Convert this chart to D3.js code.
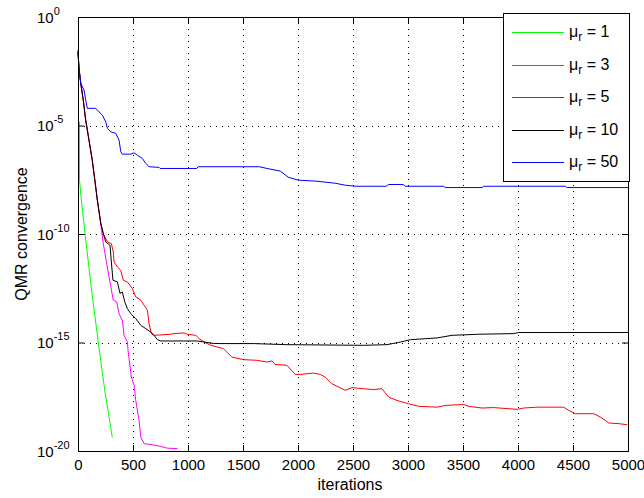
<!DOCTYPE html>
<html>
<head>
<meta charset="utf-8">
<script src="https://cdnjs.cloudflare.com/ajax/libs/d3/7.8.5/d3.min.js"></script>
<style>
  body { margin: 0; background: #fff; }
  text { font-family: "Liberation Sans", Arial, sans-serif; fill: #000; }
</style>
</head>
<body>
<div id="chart"></div>
<script>
// chart data (y values stored as log10 exponents)
var xTicks = [0, 500, 1000, 1500, 2000, 2500, 3000, 3500, 4000, 4500, 5000];
var yTickExponents = [0, -5, -10, -15, -20];
var legendLabels = ["1", "3", "5", "10", "50"];
var seriesColors = ["#00ff00", "#ff00ff", "#ff0000", "#000000", "#0000ff"];

var mu1Iter = [14, 14, 30, 64, 118, 182, 246, 312];
var mu1Exp = [-4.83, -7.52, -8.44, -9.96, -12.36, -14.90, -17.30, -19.37];

var mu3Iter = [0, 9, 25, 48, 70, 100, 130, 161, 176, 207, 230, 282, 321, 352, 373, 403, 419, 449, 455, 485, 510, 525, 555, 571, 601, 662, 752, 813, 904];
var mu3Exp = [-1.61, -2.35, -3.06, -3.83, -4.75, -5.70, -6.64, -7.86, -8.46, -9.55, -10.44, -11.98, -13.05, -13.13, -13.67, -13.98, -14.67, -14.98, -15.36, -16.59, -16.97, -17.67, -18.59, -19.36, -19.66, -19.70, -19.79, -19.87, -19.89];

var mu5Iter = [0, 9, 25, 48, 70, 100, 130, 161, 176, 207, 230, 267, 303, 321, 328, 358, 389, 412, 449, 494, 525, 571, 601, 631, 646, 667, 692, 844, 874, 965, 995, 1071, 1101, 1146, 1207, 1322, 1399, 1504, 1626, 1717, 1763, 1793, 1899, 1975, 2020, 2141, 2202, 2247, 2308, 2429, 2490, 2596, 2687, 2763, 2823, 2900, 2945, 3005, 3096, 3264, 3339, 3506, 3551, 3673, 3779, 3992, 4052, 4174, 4416, 4461, 4522, 4689, 4750, 4826, 4917, 4993];
var mu5Exp = [-1.61, -2.35, -3.06, -3.83, -4.75, -5.67, -6.60, -7.83, -8.44, -9.50, -9.98, -10.36, -10.44, -10.83, -11.29, -11.52, -11.67, -12.13, -12.21, -12.51, -12.90, -13.05, -13.28, -13.51, -14.13, -14.59, -14.67, -14.62, -14.59, -14.56, -14.62, -14.67, -14.82, -14.98, -15.13, -15.28, -15.67, -15.79, -15.82, -15.90, -15.85, -16.01, -16.05, -16.47, -16.47, -16.41, -16.47, -16.59, -16.90, -17.20, -17.08, -17.13, -17.17, -17.13, -17.51, -17.67, -17.74, -17.82, -17.94, -17.98, -17.90, -17.86, -17.94, -18.02, -18.00, -18.08, -18.02, -17.98, -17.98, -18.13, -18.28, -18.28, -18.44, -18.71, -18.74, -18.79];

var mu10Iter = [0, 9, 25, 48, 70, 100, 130, 161, 176, 207, 230, 252, 291, 307, 318, 358, 382, 403, 425, 449, 480, 525, 571, 616, 662, 692, 722, 752, 1086, 1228, 1292, 1595, 1899, 2596, 2809, 2930, 3021, 3264, 3400, 3642, 3961, 4006, 5000];
var mu10Exp = [-1.61, -2.35, -3.06, -3.83, -4.75, -5.67, -6.60, -7.83, -8.44, -9.50, -9.98, -10.36, -10.52, -11.52, -12.13, -12.21, -12.74, -12.67, -13.13, -13.44, -13.67, -13.90, -14.21, -14.36, -14.52, -14.67, -14.87, -14.93, -14.93, -15.04, -15.05, -15.05, -15.10, -15.13, -15.10, -14.98, -14.87, -14.79, -14.67, -14.62, -14.59, -14.54, -14.54];

var mu50Iter = [0, 9, 25, 55, 73, 85, 161, 191, 221, 252, 267, 298, 343, 373, 389, 403, 480, 510, 540, 585, 616, 646, 737, 746, 1080, 1092, 1647, 1747, 1838, 1911, 2002, 2156, 2338, 2429, 2520, 2803, 2821, 2957, 2975, 3324, 3339, 3673, 3688, 4431, 4447, 5000];
var mu50Exp = [-1.52, -2.44, -3.06, -3.37, -3.91, -4.21, -4.21, -4.37, -4.52, -4.83, -5.13, -5.29, -5.36, -5.67, -6.21, -6.32, -6.32, -6.26, -6.37, -6.52, -6.75, -6.90, -6.93, -6.98, -6.98, -6.90, -6.90, -7.01, -7.10, -7.38, -7.52, -7.56, -7.66, -7.75, -7.80, -7.80, -7.72, -7.72, -7.80, -7.80, -7.86, -7.86, -7.80, -7.80, -7.86, -7.86];

var svgWidth = 644;
var svgHeight = 498;

var margin = {
  top: 17,
  right: 16,
  bottom: 47,
  left: 78
};

var width = svgWidth - margin.left - margin.right;
var height = svgHeight - margin.top - margin.bottom;

var svg = d3.select("#chart").append("svg")
  .attr("width", svgWidth)
  .attr("height", svgHeight);

var chartGroup = svg.append("g")
  .attr("transform", `translate(${margin.left}, ${margin.top})`);

// Step 1: build the series from the arrays
var series = [
  { label: legendLabels[0], color: seriesColors[0], iter: mu1Iter, exp: mu1Exp },
  { label: legendLabels[1], color: seriesColors[1], iter: mu3Iter, exp: mu3Exp },
  { label: legendLabels[2], color: seriesColors[2], iter: mu5Iter, exp: mu5Exp },
  { label: legendLabels[3], color: seriesColors[3], iter: mu10Iter, exp: mu10Exp },
  { label: legendLabels[4], color: seriesColors[4], iter: mu50Iter, exp: mu50Exp }
];
series.forEach(function(s) {
  s.points = s.iter.map(function(d, i) {
    return { x: d, y: Math.pow(10, s.exp[i]) };
  });
});

// Step 2: scales
var xLinearScale = d3.scaleLinear()
  .domain([0, 5000])
  .range([0, width]);

var yLogScale = d3.scaleLog()
  .domain([1e-20, 1])
  .range([height, 0]);

var yTicks = yTickExponents.map(e => Math.pow(10, e));

// Step 3: dotted grid
chartGroup.append("g")
  .selectAll("line")
  .data(xTicks.slice(1, -1))
  .enter()
  .append("line")
  .attr("x1", d => Math.round(xLinearScale(d)) + 0.5)
  .attr("x2", d => Math.round(xLinearScale(d)) + 0.5)
  .attr("y1", 0)
  .attr("y2", height)
  .attr("stroke", "#000")
  .attr("stroke-dasharray", "1,5");

chartGroup.append("g")
  .selectAll("line")
  .data(yTicks.slice(1, -1))
  .enter()
  .append("line")
  .attr("x1", 0)
  .attr("x2", width)
  .attr("y1", d => Math.round(yLogScale(d)) + 0.5)
  .attr("y2", d => Math.round(yLogScale(d)) + 0.5)
  .attr("stroke", "#000")
  .attr("stroke-dasharray", "1,5");

// Step 4: lines
var line = d3.line()
  .x(d => xLinearScale(d.x))
  .y(d => yLogScale(d.y));

chartGroup.selectAll(".series")
  .data(series)
  .enter()
  .append("path")
  .attr("class", "series")
  .attr("d", d => line(d.points))
  .attr("fill", "none")
  .attr("stroke", d => d.color)
  .attr("stroke-width", 1);

// Step 5: axes (ticks point inward, box on all sides)
var bottomAxis = d3.axisBottom(xLinearScale)
  .tickValues(xTicks)
  .tickSize(-6)
  .tickPadding(8)
  .tickFormat(d3.format("d"));
var topAxis = d3.axisTop(xLinearScale).tickValues(xTicks).tickSize(-6).tickFormat("");
var leftAxis = d3.axisLeft(yLogScale).tickValues(yTicks).tickSize(-6).tickFormat("");
var rightAxis = d3.axisRight(yLogScale).tickValues(yTicks).tickSize(-6).tickFormat("");

var xAxisG = chartGroup.append("g")
  .attr("transform", `translate(0, ${height})`)
  .call(bottomAxis);
chartGroup.append("g").call(topAxis);
var yAxisG = chartGroup.append("g").call(leftAxis);
chartGroup.append("g")
  .attr("transform", `translate(${width}, 0)`)
  .call(rightAxis);

chartGroup.selectAll(".domain").attr("stroke", "#000");
chartGroup.selectAll(".tick line").attr("stroke", "#000");
xAxisG.selectAll("text")
  .style("font-size", "15px")
  .style("font-family", "Liberation Sans, Arial, sans-serif");

// y tick labels as 10^n
yAxisG.selectAll(".tick").each(function(d) {
  var t = d3.select(this).append("text")
    .attr("x", -41)
    .attr("y", 5)
    .attr("text-anchor", "start")
    .style("font-size", "15px");
  t.append("tspan").text("10");
  t.append("tspan")
    .attr("dy", -8)
    .style("font-size", "11px")
    .text(Math.round(Math.log10(d)));
});

// Step 6: axis labels
chartGroup.append("text")
  .attr("transform", "rotate(-90)")
  .attr("y", 21 - margin.left)
  .attr("x", 0 - (height / 2))
  .attr("dy", "0.35em")
  .attr("text-anchor", "middle")
  .style("font-size", "16px")
  .text("QMR convergence");

chartGroup.append("text")
  .attr("transform", `translate(${width / 2 - 3}, ${height + 39})`)
  .attr("text-anchor", "middle")
  .style("font-size", "16px")
  .text("iterations");

// Step 7: legend
var legend = svg.append("g")
  .attr("transform", "translate(503, 13)");

legend.append("rect")
  .attr("x", 0.5)
  .attr("y", 0.5)
  .attr("width", 126)
  .attr("height", 168)
  .attr("fill", "#fff")
  .attr("stroke", "#000");

var legendItems = legend.selectAll(".item")
  .data(series)
  .enter()
  .append("g")
  .attr("class", "item")
  .attr("transform", (d, i) => `translate(0, ${19 + Math.round(i * 32.5)})`);

legendItems.append("line")
  .attr("x1", 9)
  .attr("x2", 61)
  .attr("y1", 0.5)
  .attr("y2", 0.5)
  .attr("stroke", d => d.color)
  .attr("stroke-width", 1);

var legendText = legendItems.append("text")
  .attr("x", 66)
  .attr("y", 5)
  .style("font-size", "16px");
legendText.append("tspan").text("\u03bc");
legendText.append("tspan")
  .attr("dy", 4)
  .style("font-size", "12px")
  .text("r");
legendText.append("tspan")
  .attr("dy", -4)
  .text(d => " = " + d.label);
</script>
</body>
</html>
